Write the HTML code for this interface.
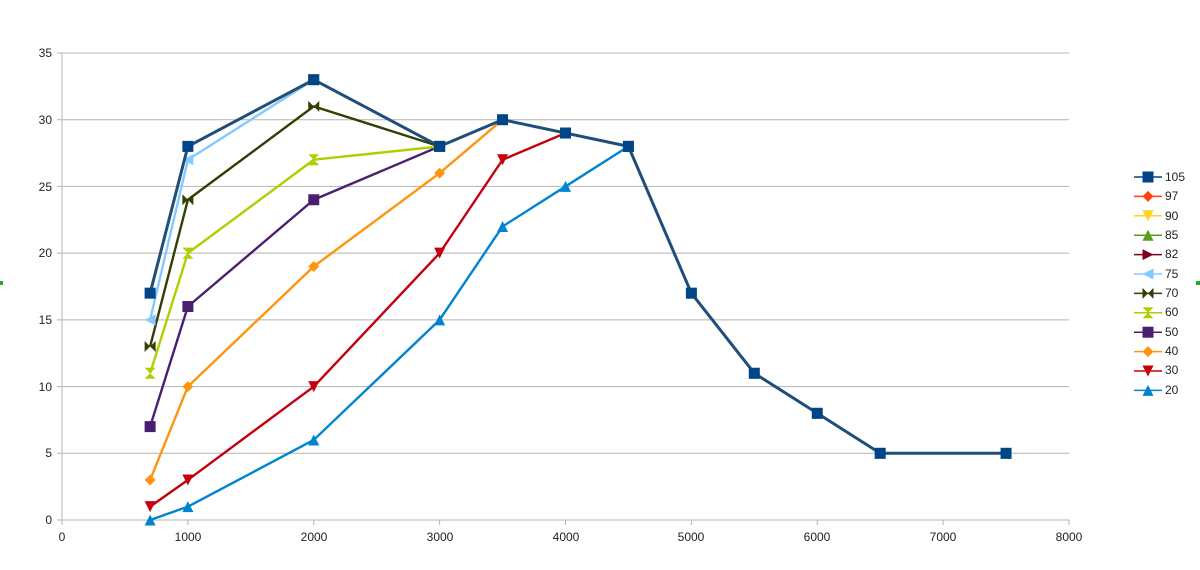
<!DOCTYPE html>
<html><head><meta charset="utf-8"><style>
body{margin:0;background:#fff}
svg{display:block;font-family:"Liberation Sans",sans-serif}
</style></head><body>
<svg id="c" width="1200" height="570" xmlns="http://www.w3.org/2000/svg">
<rect width="1200" height="570" fill="#fff"/>
<g id="grid" stroke="#b3b3b3" stroke-width="1"></g>
<g font-size="12" fill="#222" text-anchor="end">
<text x="52" y="57">35</text><text x="52" y="124">30</text><text x="52" y="191">25</text>
<text x="52" y="257">20</text><text x="52" y="324">15</text><text x="52" y="391">10</text>
<text x="52" y="457">5</text><text x="52" y="524">0</text>
</g>
<g font-size="12" fill="#222" text-anchor="middle">
<text x="62" y="541">0</text><text x="188" y="541">1000</text><text x="314" y="541">2000</text>
<text x="440" y="541">3000</text><text x="566" y="541">4000</text><text x="691" y="541">5000</text>
<text x="817" y="541">6000</text><text x="943" y="541">7000</text><text x="1069" y="541">8000</text>
</g>
<g id="series"></g>
<g id="legend" font-size="12" fill="#222">
<text x="1165" y="181">105</text><text x="1165" y="200">97</text><text x="1165" y="220">90</text>
<text x="1165" y="239">85</text><text x="1165" y="258">82</text><text x="1165" y="278">75</text>
<text x="1165" y="297">70</text><text x="1165" y="316">60</text><text x="1165" y="336">50</text>
<text x="1165" y="355">40</text><text x="1165" y="374">30</text><text x="1165" y="394">20</text>
</g>
<rect x="0" y="281" width="3" height="4" fill="#2a2"/>
<rect x="1196" y="281" width="4" height="4" fill="#2a2"/>
</svg>
<script>
const NS="http://www.w3.org/2000/svg";
const X=v=>62+v*0.125875, Y=v=>520-v*13.343;
function el(p,t,a){const e=document.createElementNS(NS,t);for(const k in a)e.setAttribute(k,a[k]);p.appendChild(e);return e;}
const g=document.getElementById('grid');
for(let i=0;i<=7;i++)el(g,'line',{x1:57,x2:1069,y1:Y(i*5),y2:Y(i*5)});
el(g,'line',{x1:62,x2:62,y1:Y(35),y2:525});
for(let i=0;i<=8;i++)el(g,'line',{x1:X(i*1000),x2:X(i*1000),y1:520,y2:525});
function marker(p,sh,x,y,c){
 const s=5.5;
 if(sh=='sq')el(p,'rect',{x:x-s,y:y-s,width:2*s,height:2*s,fill:c});
 else if(sh=='dia')el(p,'polygon',{points:`${x},${y-s} ${x+s},${y} ${x},${y+s} ${x-s},${y}`,fill:c});
 else if(sh=='dn')el(p,'polygon',{points:`${x-s},${y-s} ${x+s},${y-s} ${x},${y+s}`,fill:c});
 else if(sh=='up')el(p,'polygon',{points:`${x-s},${y+s} ${x+s},${y+s} ${x},${y-s}`,fill:c});
 else if(sh=='rt')el(p,'polygon',{points:`${x-s},${y-s} ${x+s},${y} ${x-s},${y+s}`,fill:c});
 else if(sh=='lt')el(p,'polygon',{points:`${x+s},${y-s} ${x-s},${y} ${x+s},${y+s}`,fill:c});
 else if(sh=='bow'){el(p,'polygon',{points:`${x-s},${y-s} ${x},${y} ${x-s},${y+s}`,fill:c});el(p,'polygon',{points:`${x+s},${y-s} ${x},${y} ${x+s},${y+s}`,fill:c});}
 else if(sh=='hg'){el(p,'polygon',{points:`${x-s},${y-s} ${x+s},${y-s} ${x},${y}`,fill:c});el(p,'polygon',{points:`${x-s},${y+s} ${x+s},${y+s} ${x},${y}`,fill:c});}
}
const tail=[[3500,30],[4000,29],[4500,28],[5000,17],[5500,11],[6000,8],[6500,5],[7500,5]];
const base105=[[700,17],[1000,28],[2000,33],[3000,28]].concat(tail);
const S=[
 ['20','#0084d1','up',[[700,0],[1000,1],[2000,6],[3000,15],[3500,22],[4000,25],[4500,28],[5000,17],[5500,11],[6000,8],[6500,5],[7500,5]]],
 ['30','#c5000b','dn',[[700,1],[1000,3],[2000,10],[3000,20],[3500,27],[4000,29],[4500,28]]],
 ['40','#ff950e','dia',[[700,3],[1000,10],[2000,19],[3000,26],[3500,30]]],
 ['50','#4b1f6f','sq',[[700,7],[1000,16],[2000,24],[3000,28]]],
 ['60','#aecf00','hg',[[700,11],[1000,20],[2000,27],[3000,28]]],
 ['70','#314004','bow',[[700,13],[1000,24],[2000,31],[3000,28]]],
 ['75','#83caff','lt',[[700,15],[1000,27],[2000,33],[3000,28]]],
 ['82','#7e0021','rt',[[2000,33],[3000,28]]],
 ['85','#579d1c','up',[[2000,33]]],
 ['90','#ffd320','dn',[[2000,33]]],
 ['97','#ff420e','dia',[[2000,33]]],
 ['105','#004586','sq',base105]
];
const sg=document.getElementById('series');
S.forEach(([n,c,sh,d])=>{
 const w=n=='105'?3:2.4;
 el(sg,'polyline',{points:d.map(p=>X(p[0])+','+Y(p[1])).join(' '),fill:'none',stroke:n=='105'?'#1f4e79':c,'stroke-width':w,'stroke-linejoin':'round'});
 d.forEach(p=>marker(sg,sh,X(p[0]),Y(p[1]),c));
});
const lg=document.getElementById('legend');
const order=['105','97','90','85','82','75','70','60','50','40','30','20'];
order.forEach((n,i)=>{const s=S.find(q=>q[0]==n);const y=177+i*19.4;
 el(lg,'line',{x1:1134,x2:1162,y1:y,y2:y,stroke:s[1],'stroke-width':1.5});
 marker(lg,s[2],1148,y,s[1]);});
</script>
</body></html>
